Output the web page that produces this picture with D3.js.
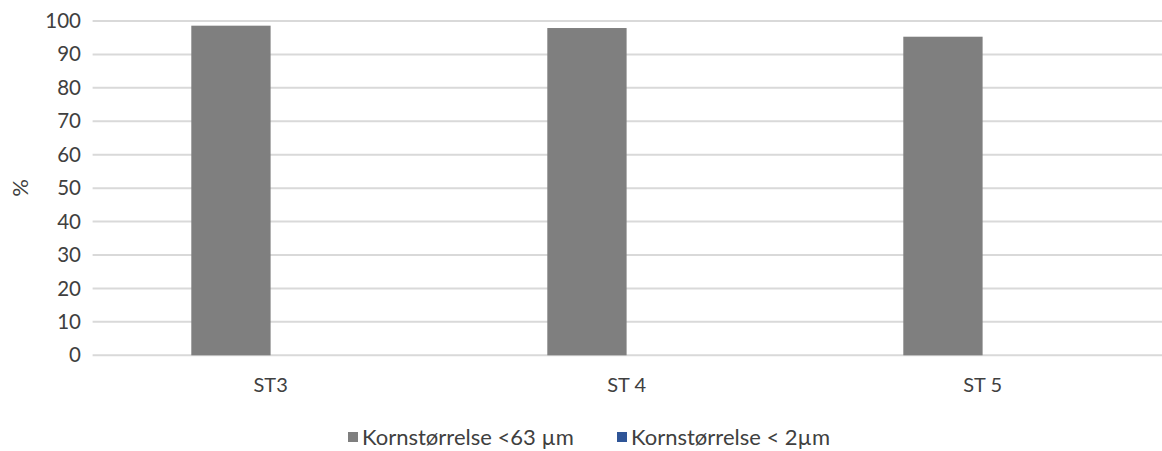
<!DOCTYPE html>
<html>
<head>
<meta charset="utf-8">
<script src="https://cdn.jsdelivr.net/npm/d3@7"></script>
<style>
  html, body { margin: 0; padding: 0; background: #fff; }
  svg { display: block; font-family: Lato, "Open Sans", sans-serif; }
</style>
</head>
<body>
<svg id="chart" width="1162" height="451"></svg>
<script>
// Stations along the x axis
const categories = ["ST3", "ST 4", "ST 5"];
// Grain-size fractions (%)
const seriesNames = ["Kornstørrelse <63 µm", "Kornstørrelse < 2µm"];
const fines63 = [98.6, 97.9, 95.3];
const clay2 = [0, 0, 0];
const yTicks = [0, 10, 20, 30, 40, 50, 60, 70, 80, 90, 100];
const colors = ["#7f7f7f", "#2f5597"];

const svg = d3.select("#chart");
const plot = { left: 92.6, right: 1160.6, top: 21, bottom: 355.3 };

const y = d3.scaleLinear().domain([0, 100]).range([plot.bottom, plot.top]);
const x = d3.scaleBand()
  .domain(categories)
  .range([plot.left, plot.right])
  .paddingInner(0.5545)
  .paddingOuter(0.27725);
const xs = d3.scaleBand().domain(seriesNames).range([0, x.bandwidth()]);

// Horizontal gridlines
svg.append("g")
  .selectAll("line")
  .data(yTicks)
  .join("line")
  .attr("x1", plot.left)
  .attr("x2", 1162)
  .attr("y1", d => y(d))
  .attr("y2", d => y(d))
  .attr("stroke", "#d9d9d9")
  .attr("stroke-width", 2);

// Y axis tick labels
const yAxis = d3.axisLeft(y).tickValues(yTicks).tickSize(0).tickPadding(0);
const gy = svg.append("g").attr("transform", "translate(81,0)").call(yAxis);
gy.select(".domain").remove();
gy.selectAll("text")
  .attr("font-family", "Lato, 'Open Sans', sans-serif")
  .attr("font-size", 20.5)
  .attr("fill", "#404040");

// Y axis title
svg.append("text")
  .attr("transform", "translate(28,188) rotate(-90)")
  .attr("text-anchor", "middle")
  .attr("font-size", 22)
  .attr("fill", "#404040")
  .text("%");

// Bars
const rows = categories.map((c, i) => ({ cat: c, vals: [fines63[i], clay2[i]] }));
const groups = svg.append("g")
  .selectAll("g")
  .data(rows)
  .join("g")
  .attr("transform", d => `translate(${x(d.cat)},0)`);
groups.selectAll("rect")
  .data(d => d.vals.map((v, j) => ({ name: seriesNames[j], v, j })))
  .join("rect")
  .attr("x", d => xs(d.name))
  .attr("width", xs.bandwidth())
  .attr("y", d => y(d.v))
  .attr("height", d => y(0) - y(d.v))
  .attr("fill", d => colors[d.j]);

// Category labels
const xAxis = d3.axisBottom(x).tickSize(0).tickPadding(0);
const gx = svg.append("g").attr("transform", "translate(0,378)").call(xAxis);
gx.select(".domain").remove();
gx.selectAll("text")
  .attr("font-family", "Lato, 'Open Sans', sans-serif")
  .attr("font-size", 20)
  .attr("fill", "#404040");

// Legend
const legendItems = [
  { name: seriesNames[0], color: colors[0], x: 348 },
  { name: seriesNames[1], color: colors[1], x: 617 }
];
const lg = svg.append("g")
  .selectAll("g")
  .data(legendItems)
  .join("g")
  .attr("transform", d => `translate(${d.x},432)`);
lg.append("rect")
  .attr("width", 10)
  .attr("height", 10)
  .attr("fill", d => d.color);
lg.append("text")
  .attr("x", 14)
  .attr("y", 12.5)
  .attr("font-size", 22)
  .attr("fill", "#404040")
  .text(d => d.name);
</script>
</body>
</html>
